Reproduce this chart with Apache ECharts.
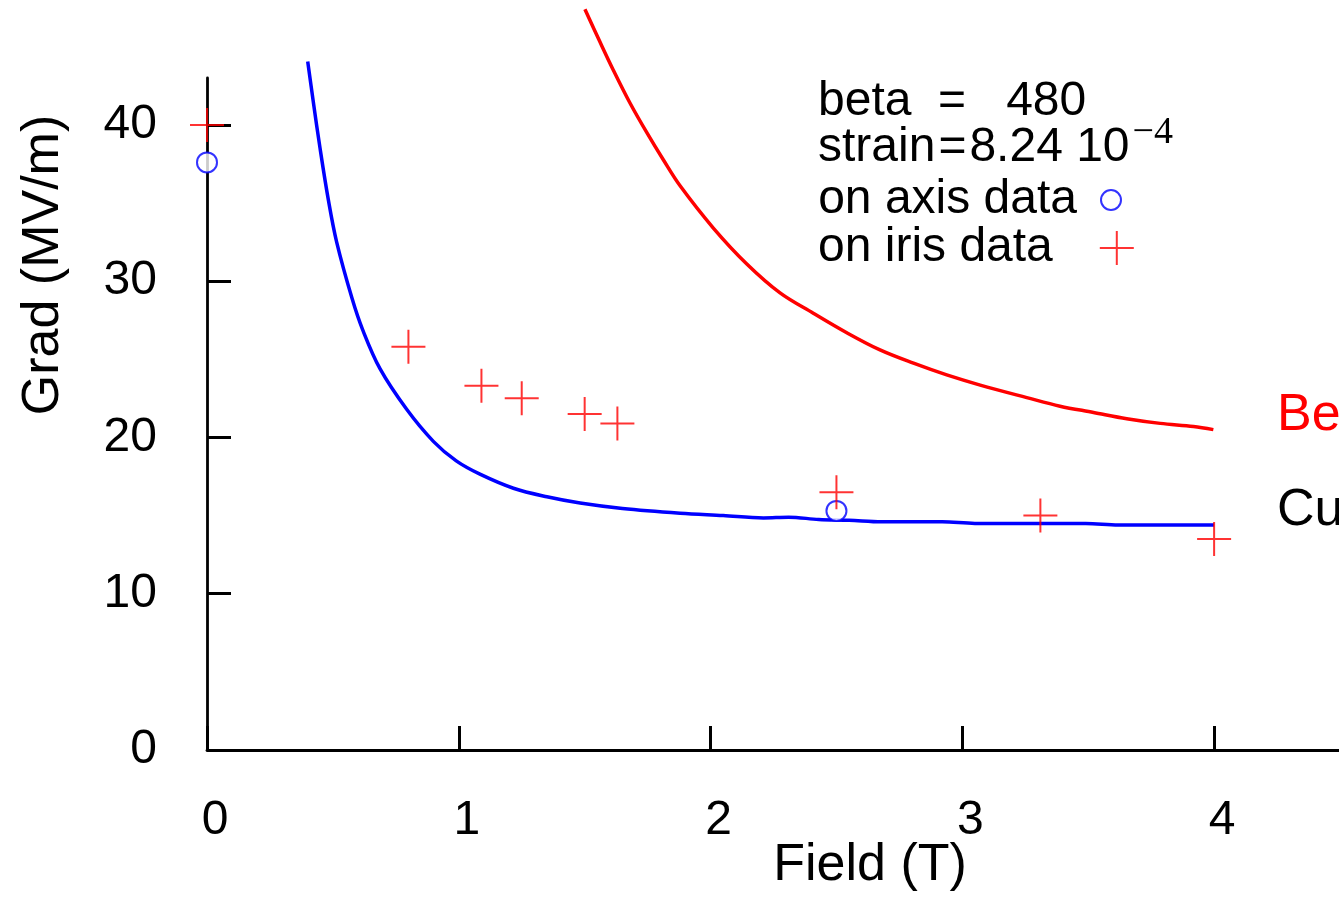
<!DOCTYPE html>
<html><head><meta charset="utf-8">
<script src="https://cdn.jsdelivr.net/npm/echarts@6/dist/echarts.min.js"></script>
<style>html,body{margin:0;padding:0;background:#fff}#c{width:1339px;height:898px}</style>
</head><body><div id="c"></div>
<script>
// ---- data ----
const xTicks = [0, 1, 2, 3, 4];
const yTicks = [0, 10, 20, 30, 40];

const cuField = [0.400, 0.422, 0.449, 0.482, 0.515, 0.576, 0.618, 0.687, 0.793, 0.899, 0.99, 1.084, 1.217, 1.35, 1.482, 1.65, 1.879, 2.05, 2.21, 2.31, 2.43, 2.55, 2.68, 2.92, 3.05, 3.3, 3.49, 3.62, 3.8, 4.0];
const cuGrad  = [44.05, 41.5, 38.5, 35.2, 32.5, 28.9, 26.9, 24.4, 21.8, 19.75, 18.5, 17.65, 16.75, 16.2, 15.8, 15.45, 15.15, 15.0, 14.85, 14.9, 14.75, 14.7, 14.6, 14.6, 14.5, 14.5, 14.5, 14.4, 14.4, 14.4];

const beField = [1.501, 1.561, 1.614, 1.680, 1.747, 1.813, 1.879, 2.011, 2.144, 2.276, 2.408, 2.541, 2.673, 2.806, 2.938, 3.071, 3.256, 3.388, 3.521, 3.653, 3.786, 3.918, 3.997];
const beGrad  = [47.4, 45.3, 43.5, 41.4, 39.5, 37.75, 36.1, 33.4, 31.1, 29.25, 27.95, 26.7, 25.6, 24.75, 24.0, 23.35, 22.55, 22.0, 21.6, 21.2, 20.9, 20.7, 20.5];

const irisField = [0, 0.80, 1.09, 1.25, 1.50, 1.63, 2.50, 3.31, 4.0];
const irisGrad  = [40.0, 25.8, 23.3, 22.5, 21.5, 20.9, 16.5, 15.0, 13.5];

const axisField = [0, 2.50];
const axisGrad  = [37.6, 15.3];

const zip = (a, b) => a.map((v, i) => [v, b[i]]);
const FONT = '"Liberation Sans", Arial, sans-serif';
const SERIF = '"Liberation Serif", "DejaVu Serif", serif';
const PLUS = 'path://M0,17H34M17,0V34';

const chart = echarts.init(document.getElementById('c'), null, {renderer: 'canvas'});
chart.setOption({
  animation: false,
  backgroundColor: '#fff',
  grid: {left: 207, top: 78, width: 1133, height: 672, outerBoundsMode: 'none', containLabel: false},
  xAxis: {
    type: 'value', min: 0, max: 4.5,
    axisLine: {show: true, onZero: false, lineStyle: {color: '#000', width: 2.8}},
    axisTick: {show: true, inside: true, length: 24, lineStyle: {color: '#000', width: 3}, customValues: xTicks},
    axisLabel: {customValues: xTicks, color: '#000', fontSize: 48, fontFamily: FONT, margin: 47, padding: [0, 0, 0, 16]},
    splitLine: {show: false}
  },
  yAxis: {
    type: 'value', min: 0, max: 43,
    axisLine: {show: true, onZero: false, lineStyle: {color: '#000', width: 2.8}},
    axisTick: {show: true, inside: true, length: 24, lineStyle: {color: '#000', width: 3}, customValues: yTicks},
    axisLabel: {customValues: yTicks, color: '#000', fontSize: 48, fontFamily: FONT, margin: 50},
    splitLine: {show: false}
  },
  legend: [
    {
      data: ['on axis data'], orient: 'vertical', align: 'right', selectedMode: false,
      right: 212, top: 171, itemWidth: 20, itemHeight: 20,
      textStyle: {color: '#000', fontSize: 48, fontFamily: FONT, padding: [0, 19, 0, 0]}
    },
    {
      data: ['on iris data'], orient: 'vertical', align: 'right', selectedMode: false,
      left: 813, top: 219, itemWidth: 34, itemHeight: 34,
      textStyle: {color: '#000', fontSize: 48, fontFamily: FONT, padding: [0, 42, 0, 0]}
    }
  ],
  graphic: [
    {type: 'text', x: 818, y: 78, style: {text: 'beta  =   480', fontSize: 48, fontFamily: FONT, fill: '#000', align: 'left', verticalAlign: 'top'}},
    {type: 'text', x: 818, y: 114, style: {
      text: '{m|strain}{e|=}{m|8.24 10}{s|\u22124}', align: 'left', verticalAlign: 'top',
      rich: {
        m: {fontSize: 48, fontFamily: FONT, fill: '#000', verticalAlign: 'bottom'},
        e: {fontSize: 48, fontFamily: FONT, fill: '#000', verticalAlign: 'bottom', padding: [0, 3, 0, 3]},
        s: {fontSize: 38, fontFamily: SERIF, fill: '#000', verticalAlign: 'top', lineHeight: 58, padding: [0, 0, 0, 3]}
      }
    }},
    {type: 'text', x: 44, y: 265, rotation: Math.PI / 2, style: {text: 'Grad (MV/m)', fontSize: 52, fontFamily: FONT, fill: '#000', align: 'center', verticalAlign: 'middle'}},
    {type: 'text', x: 870, y: 866, style: {text: 'Field (T)', fontSize: 52, fontFamily: FONT, fill: '#000', align: 'center', verticalAlign: 'middle'}},
    {type: 'text', x: 1277, y: 416, style: {text: 'Be', fontSize: 52, fontFamily: FONT, fill: '#ff0000', align: 'left', verticalAlign: 'middle'}},
    {type: 'text', x: 1277, y: 511, style: {text: 'Cu', fontSize: 52, fontFamily: FONT, fill: '#000', align: 'left', verticalAlign: 'middle'}}
  ],
  series: [
    {
      name: 'Cu', type: 'line', data: zip(cuField, cuGrad), showSymbol: false, smooth: 0.35,
      clip: false, lineStyle: {color: '#0000ff', width: 3.5}, itemStyle: {color: '#0000ff'}, silent: true, z: 2
    },
    {
      name: 'Be', type: 'line', data: zip(beField, beGrad), showSymbol: false, smooth: 0.35,
      clip: false, lineStyle: {color: '#ff0000', width: 3.5}, itemStyle: {color: '#ff0000'}, silent: true, z: 2
    },
    {
      name: 'on axis data', type: 'scatter', data: zip(axisField, axisGrad), symbol: 'emptyCircle', symbolSize: 20,
      clip: false, itemStyle: {color: '#0000ff', borderColor: '#0000ff', borderWidth: 2}, z: 3
    },
    {
      name: 'on iris data', type: 'scatter', data: zip(irisField, irisGrad), symbol: PLUS, symbolSize: 34,
      clip: false, itemStyle: {color: '#ff0000', borderColor: '#ff0000', borderWidth: 2}, z: 4
    }
  ]
});
</script>
</body></html>
